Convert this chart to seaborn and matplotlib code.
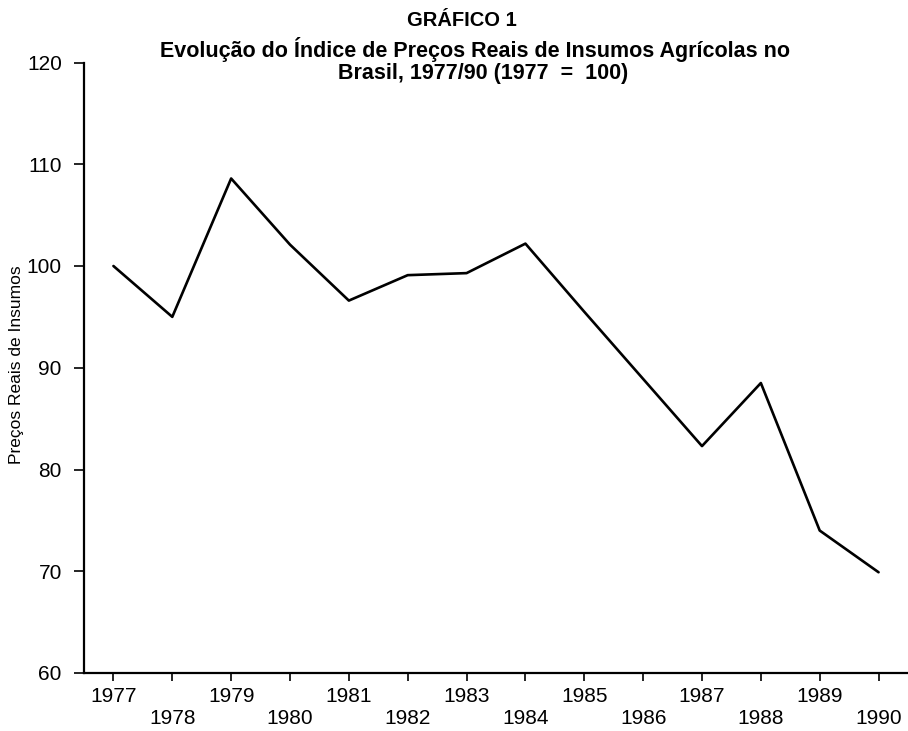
import matplotlib
matplotlib.use("Agg")
import matplotlib.pyplot as plt
import seaborn as sns
import pandas as pd

years = [1977, 1978, 1979, 1980, 1981, 1982, 1983, 1984, 1985, 1986, 1987, 1988, 1989, 1990]
values = [100.0, 95.0, 108.6, 102.1, 96.6, 99.1, 99.3, 102.2, 95.5, 88.9, 82.3, 88.5, 74.0, 69.9]
yticks = [60, 70, 80, 90, 100, 110, 120]
title = "GRÁFICO 1"
subtitle1 = "Evolução do Índice de Preços Reais de Insumos Agrícolas no"
subtitle2 = "Brasil, 1977/90 (1977  =  100)"
ylabel = "Preços Reais de Insumos"

df = pd.DataFrame({"ano": years, "indice": values})

sns.set_style("ticks")
plt.rcParams['font.family'] = ['Liberation Sans', 'DejaVu Sans']
plt.rcParams['text.color'] = 'black'
plt.rcParams['xtick.color'] = 'black'
plt.rcParams['ytick.color'] = 'black'

W, H = 908, 731
fig = plt.figure(figsize=(W / 100, H / 100), dpi=100)
ax = fig.add_axes([84 / W, 1 - 673 / H, (W - 84) / W, (673 - 62.5) / H])

sns.lineplot(data=df, x="ano", y="indice", ax=ax, color="black", linewidth=1.9)

ax.set_xlim(1976.5, 1990.5)
ax.set_ylim(60, 120)
ax.set_yticks(yticks)
ax.set_yticklabels([str(t) for t in yticks], fontsize=15)

odd = [y for y in years if y % 2 == 1]
even = [y for y in years if y % 2 == 0]
ax.set_xticks(odd)
ax.set_xticklabels([str(y) for y in odd], fontsize=15)
ax.set_xticks(even, minor=True)
ax.set_xticklabels([str(y) for y in even], minor=True, fontsize=15)
ax.tick_params(axis="x", which="major", length=6, width=1.2, pad=4, colors="black")
ax.tick_params(axis="x", which="minor", length=6, width=1.2, pad=20, colors="black")
ax.tick_params(axis="y", length=7, width=1.2, pad=9, colors="black")

ax.set_xlabel("")
ax.set_ylabel("")
for s in ["top", "right"]:
    ax.spines[s].set_visible(False)
for s in ["left", "bottom"]:
    ax.spines[s].set_linewidth(1.6)
    ax.spines[s].set_color("black")

fig.text(462 / W, 1 - 21 / H, title, ha="center", va="center", fontsize=14.5, fontweight="bold")
fig.text(475 / W, 1 - 49 / H, subtitle1, ha="center", va="center", fontsize=15.5, fontweight="bold")
fig.text(483 / W, 1 - 73 / H, subtitle2, ha="center", va="center", fontsize=15.5, fontweight="bold")
fig.text(17 / W, 1 - 365 / H, ylabel, ha="center", va="center", rotation=90, fontsize=12.5)

fig.savefig("out.png", dpi=100)
